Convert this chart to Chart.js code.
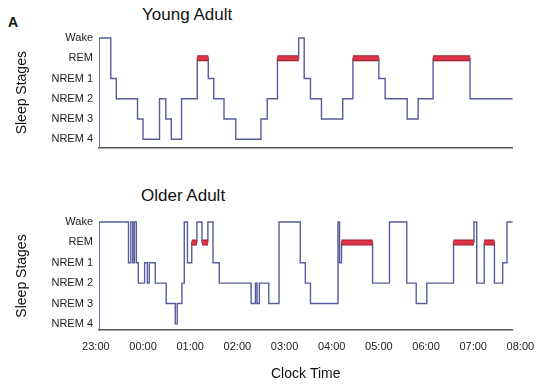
<!DOCTYPE html>
<html>
<head>
<meta charset="utf-8">
<title>Sleep hypnograms</title>
<script src="https://cdn.jsdelivr.net/npm/chart.js@4.4.0/dist/chart.umd.min.js"></script>
<style>
  html, body { margin: 0; padding: 0; background: #fff; }
  #wrap {
    position: relative; width: 553px; height: 384px; overflow: hidden;
    font-family: "Liberation Sans", Arial, sans-serif; color: #111;
  }
  canvas { position: absolute; left: 0; }
  #young-chart { top: 0; }
  #older-chart { top: 180px; }
  .txt { position: absolute; white-space: nowrap; }
  #panel-letter { left: 8px; top: 15px; font-size: 14px; line-height: 14px; font-weight: bold; }
  .panel-title { font-size: 17px; line-height: 17px; }
  #young-title { left: 142px; top: 6px; }
  #older-title { left: 141px; top: 187px; }
</style>
</head>
<body>
<div id="wrap">
  <div class="txt" id="panel-letter">A</div>
  <div class="txt panel-title" id="young-title">Young Adult</div>
  <div class="txt panel-title" id="older-title">Older Adult</div>
  <canvas id="young-chart" width="553" height="160"></canvas>
  <canvas id="older-chart" width="553" height="204"></canvas>
</div>
<script>
// ---- Axis categories ----
var STAGE_CODES = ['N4', 'N3', 'N2', 'N1', 'R', 'W'];
var STAGE_LABELS = ['NREM 4', 'NREM 3', 'NREM 2', 'NREM 1', 'REM', 'Wake'];
var TICK_LABELS = ['23:00', '00:00', '01:00', '02:00', '03:00', '04:00', '05:00', '06:00', '07:00', '08:00'];
var TICK_MINUTES = [0, 60, 120, 180, 240, 300, 360, 420, 480, 540]; // minutes after 23:00

// recorded window, minutes after 23:00
var X_MIN = 4;
var X_MAX = 530;

// ---- Young adult: stage starts (minutes after 23:00) ----
var youngMinutes = [4, 19, 26, 53, 60, 81, 89, 96, 109, 129, 143, 150, 163, 178, 210,
  218, 231, 258, 265, 273, 287, 314, 327, 360, 368, 396, 410, 429, 476, 530];
var youngStages = ['W', 'N1', 'N2', 'N3', 'N4', 'N2', 'N3', 'N4', 'N2', 'R', 'N1', 'N2', 'N3', 'N4', 'N3',
  'N2', 'R', 'W', 'N1', 'N2', 'N3', 'N2', 'R', 'N1', 'N2', 'N3', 'N2', 'R', 'N2', 'N2'];

// ---- Older adult ----
var olderMinutes = [4, 41.5, 44.5, 47, 49, 51.5, 54, 62, 65.5, 68, 75.5, 89.5, 101, 103.5, 109.5,
  112.5, 116.5, 122, 128.5, 135, 142.5, 149, 157, 197.5, 203, 205, 208, 220, 233, 260,
  266.5, 273, 308, 310, 312.5, 352, 373.5, 395.5, 407.5, 421, 455, 481, 484.5, 494, 507,
  517.5, 523, 530];
var olderStages = ['W', 'N1', 'W', 'N1', 'W', 'N1', 'N2', 'N1', 'N2', 'N1', 'N2', 'N3', 'N4', 'N3', 'N2',
  'W', 'N1', 'R', 'W', 'R', 'W', 'N1', 'N2', 'N3', 'N2', 'N3', 'N2', 'N3', 'W', 'N1',
  'N2', 'N3', 'W', 'N1', 'R', 'N2', 'W', 'N2', 'N3', 'N2', 'R', 'W', 'N2', 'R', 'N2',
  'N1', 'W', 'W'];

var LINE_COLOR = '#575c9c';
var REM_COLOR = '#dd3347';
var REM_EDGE = '#9a1d2c';
var FONT = "'Liberation Sans', Arial, sans-serif";

Chart.defaults.font.family = FONT;
Chart.defaults.color = '#222';

function stagePoints(minutes, stages) {
  return minutes.map(function (m, i) {
    return { x: m, y: STAGE_CODES.indexOf(stages[i]) };
  });
}

// REM periods as separate segments, broken by null points
function remPoints(minutes, stages) {
  var pts = [];
  var remY = STAGE_CODES.indexOf('R');
  for (var i = 0; i < stages.length - 1; i++) {
    if (stages[i] !== 'R') continue;
    pts.push({ x: minutes[i], y: remY });
    pts.push({ x: minutes[i + 1], y: remY });
    pts.push({ x: minutes[i + 1], y: null });
  }
  return pts;
}

function makeChart(canvasId, minutes, stages, opt) {
  var rem = remPoints(minutes, stages);
  return new Chart(document.getElementById(canvasId), {
    type: 'line',
    data: {
      datasets: [
        { data: rem, borderColor: REM_COLOR, borderWidth: 4, spanGaps: false, clip: false },
        { data: rem, borderColor: REM_EDGE, borderWidth: 6, spanGaps: false, clip: false },
        { data: stagePoints(minutes, stages), borderColor: LINE_COLOR, borderWidth: 1.4,
          stepped: true, clip: false }
      ]
    },
    options: {
      responsive: false,
      animation: false,
      events: [],
      layout: { padding: { top: opt.padTop, left: 0, right: 40.5, bottom: 0 } },
      elements: {
        point: { radius: 0 },
        line: { tension: 0, borderCapStyle: 'butt', borderJoinStyle: 'miter', fill: false }
      },
      plugins: { legend: { display: false }, tooltip: { enabled: false } },
      scales: {
        x: {
          type: 'linear',
          min: X_MIN,
          max: X_MAX,
          grid: { display: false, drawTicks: false },
          border: { display: true, color: '#555', width: 1.5 },
          afterBuildTicks: function (s) {
            s.ticks = TICK_MINUTES.map(function (v) { return { value: v }; });
          },
          afterFit: function (s) { s.height = opt.xHeight; },
          ticks: {
            display: opt.showTime,
            autoSkip: false,
            maxRotation: 0,
            padding: 10,
            font: { size: 11 },
            callback: function (v) { return TICK_LABELS[TICK_MINUTES.indexOf(v)]; }
          },
          title: {
            display: opt.showTime,
            text: 'Clock Time',
            color: '#111',
            font: { size: 14 },
            padding: { top: 0, bottom: 1 }
          }
        },
        y: {
          type: 'linear',
          min: opt.yMin,
          max: STAGE_CODES.length - 1,
          grid: { display: false, drawTicks: false },
          border: { display: true, color: '#6b6f9c', width: 1 },
          afterBuildTicks: function (s) {
            s.ticks = STAGE_LABELS.map(function (l, i) { return { value: i }; });
          },
          afterFit: function (s) { s.width = 99; },
          ticks: {
            padding: 6,
            font: { size: 11 },
            callback: function (v) { return STAGE_LABELS[v]; }
          },
          title: {
            display: true,
            text: 'Sleep Stages',
            color: '#111',
            font: { size: 14 },
            padding: { top: 14, bottom: 0 }
          }
        }
      }
    }
  });
}

makeChart('young-chart', youngMinutes, youngStages, { padTop: 38, xHeight: 12, yMin: -0.4, showTime: false });
makeChart('older-chart', olderMinutes, olderStages, { padTop: 42, xHeight: 54, yMin: -0.3, showTime: true });
</script>
</body>
</html>
